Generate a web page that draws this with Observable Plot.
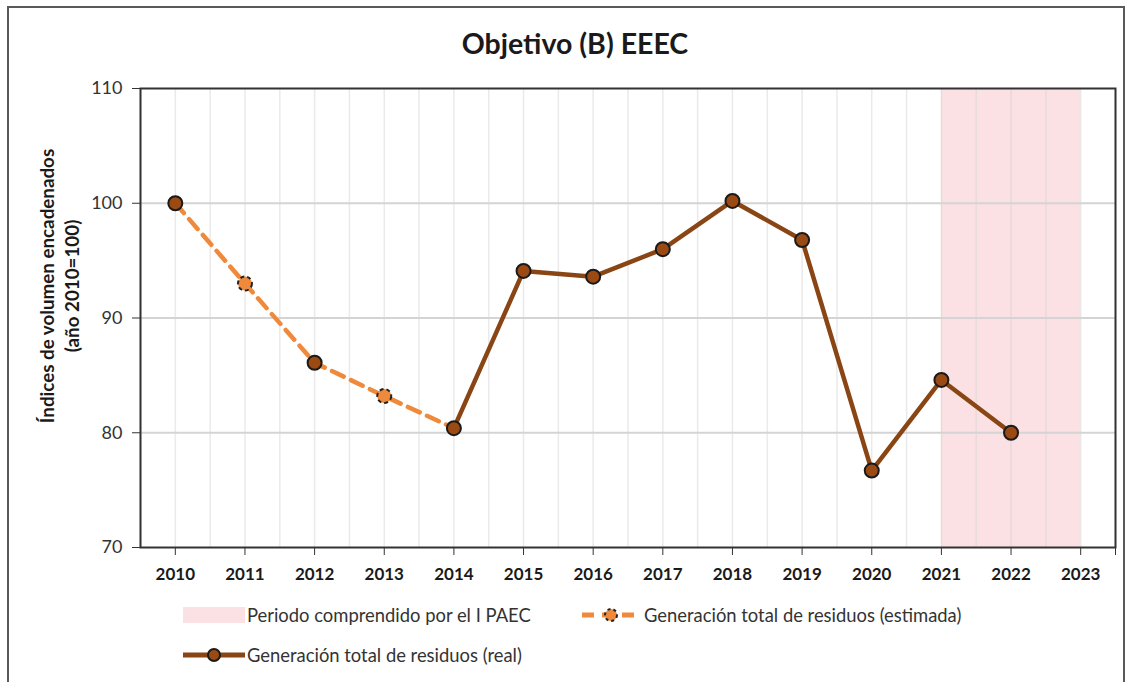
<!DOCTYPE html>
<html><head><meta charset="utf-8">
<script src="https://cdn.jsdelivr.net/npm/d3@7"></script>
<script src="https://cdn.jsdelivr.net/npm/@observablehq/plot@0.6"></script>
<style>
body{margin:0;background:#fff;}
#wrap{position:relative;width:1134px;height:682px;overflow:hidden;font-family:Lato,"Open Sans",sans-serif;background:#fff}
#border{position:absolute;left:7px;top:6px;width:1118px;height:700px;border:2px solid #595959;box-sizing:border-box}
#title{position:absolute;top:26px;left:8px;width:1134px;text-align:center;font-weight:bold;font-size:28.5px;color:#1a1a1a}
#chart{position:absolute;left:0;top:0}
.leg{position:absolute;font-size:18.4px;color:#333;display:flex;align-items:center;white-space:nowrap}
.leg svg{margin-right:2px}
</style></head>
<body>
<div id="wrap">
  <div id="border"></div>
  <div id="chart"></div>
  <div id="title">Objetivo (B) EEEC</div>
  <div class="leg" style="left:183px;top:604px"><svg width="62" height="20"><rect x="0" y="2" width="62" height="16" fill="#fbe1e4"/></svg>Periodo comprendido por el I PAEC</div>
  <div class="leg" style="left:580px;top:604px"><svg width="62" height="20"><line x1="2" y1="10" x2="60" y2="10" stroke="#ef8a3c" stroke-width="5" stroke-dasharray="12,8"/><circle cx="31" cy="10" r="6" fill="#ef8a3c" stroke="#222" stroke-width="2" stroke-dasharray="3,3"/></svg>Generación total de residuos (estimada)</div>
  <div class="leg" style="left:183px;top:644px"><svg width="62" height="20"><line x1="0" y1="10" x2="62" y2="10" stroke="#8a4514" stroke-width="5"/><circle cx="31" cy="10" r="6" fill="#9a4a12" stroke="#1a1a1a" stroke-width="2"/></svg>Generación total de residuos (real)</div>
</div>
<script>
// Data
const yearTicks = [2010,2011,2012,2013,2014,2015,2016,2017,2018,2019,2020,2021,2022,2023];
const yTicks = [70,80,90,100,110];
const estYears = [2010,2011,2012,2013,2014];
const estValues = [100,93.0,86.1,83.2,80.4];
const estMarkerYears = [2011,2013];
const estMarkerValues = [93.0,83.2];
const realYears = [2014,2015,2016,2017,2018,2019,2020,2021,2022];
const realValues = [80.4,94.1,93.6,96.0,100.2,96.8,76.7,84.6,80.0];
const realMarkerYears = [2010,2012,2014,2015,2016,2017,2018,2019,2020,2021,2022];
const realMarkerValues = [100,86.1,80.4,94.1,93.6,96.0,100.2,96.8,76.7,84.6,80.0];
const periodStart = [2021];
const periodEnd = [2023];
const yLabel = "Índices de volumen encadenados\n(año 2010=100)";

const est = estYears.map((y,i)=>({year:y,value:estValues[i]}));
const estM = estMarkerYears.map((y,i)=>({year:y,value:estMarkerValues[i]}));
const real = realYears.map((y,i)=>({year:y,value:realValues[i]}));
const realM = realMarkerYears.map((y,i)=>({year:y,value:realMarkerValues[i]}));
const period = periodStart.map((s,i)=>({x1:s,x2:periodEnd[i]}));
const halfGrid = d3.range(2009.5, 2023.51, 0.5);

const chart = Plot.plot({
  width: 1134,
  height: 600,
  marginTop: 88,
  marginBottom: 53,
  marginLeft: 140,
  marginRight: 19,
  style: {fontFamily: "Lato, 'Open Sans', sans-serif", background: "transparent"},
  x: {domain: [2009.5, 2023.5], axis: null},
  y: {domain: [70, 110], axis: null},
  marks: [
    Plot.rect(period, {x1:"x1", x2:"x2", y1:70, y2:110, fill:"#fbe1e4"}),
    Plot.ruleX(halfGrid, {stroke:"#d0d0d0", strokeOpacity:0.45, strokeWidth:1.5}),
    Plot.ruleY([80,90,100], {stroke:"#d4d4d4", strokeWidth:2}),
    Plot.axisY(yTicks, {label:null, tickSize:8, tickPadding:10, fontSize:18, stroke:"#333", fill:"#333", tickFormat: d=>String(d)}),
    Plot.axisX(yearTicks.concat([2023.5]), {label:null, tickSize:8, tickPadding:12, fontSize:17, fontWeight:"bold", fill:"#1a1a1a", stroke:"#333", tickFormat: d=> Number.isInteger(d) ? String(d) : ""}),
    Plot.text([yLabel], {frameAnchor:"left", textAnchor:"middle", dx:-82, dy:-32, rotate:-90, fontSize:18.8, fontWeight:"bold", fill:"#1a1a1a", lineHeight:1.35}),
    Plot.frame({stroke:"#333", strokeWidth:2}),
    Plot.line(est, {x:"year", y:"value", stroke:"#ef8a3c", strokeWidth:4.5, strokeDasharray:"13,8"}),
    Plot.line(real, {x:"year", y:"value", stroke:"#8a4514", strokeWidth:4.5}),
    Plot.dot(estM, {x:"year", y:"value", r:7, fill:"#ef8a3c", stroke:"#222", strokeWidth:2, strokeDasharray:"4,3"}),
    Plot.dot(realM, {x:"year", y:"value", r:7, fill:"#9a4a12", stroke:"#1a1a1a", strokeWidth:2})
  ]
});
document.getElementById("chart").appendChild(chart);
</script>
</body></html>
